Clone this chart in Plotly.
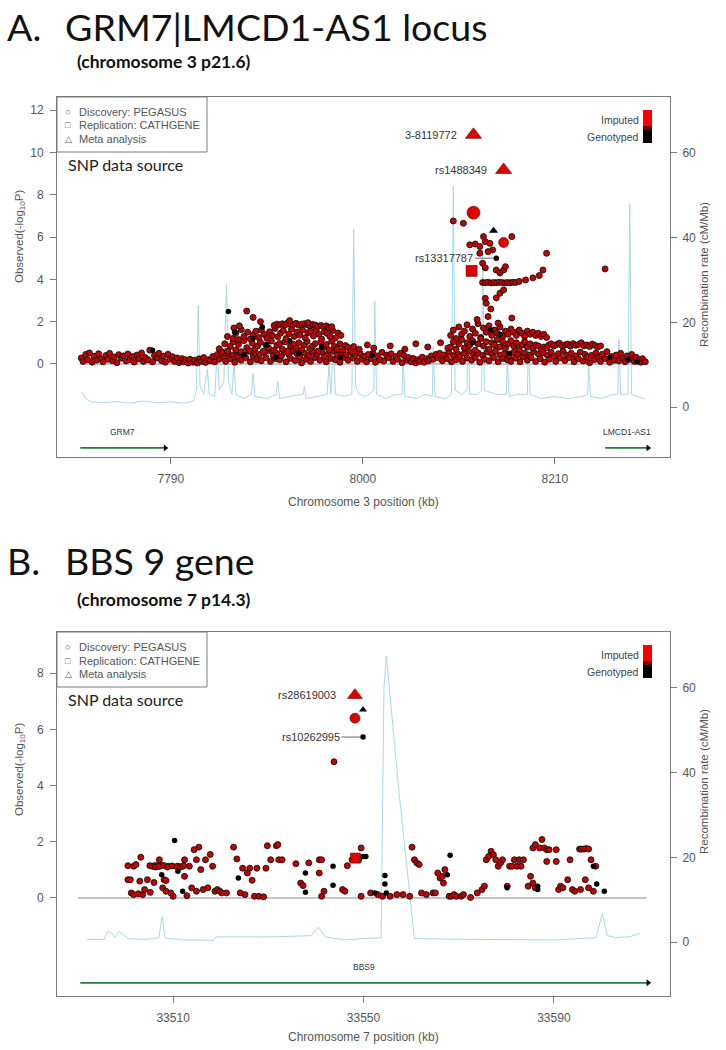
import plotly.graph_objects as go

# ================= DATA =================
# ---- Panel A : GRM7|LMCD1-AS1 (chromosome 3, kb) ----
A_band_pos = [7692, 7694, 7697, 7699, 7701, 7704, 7706, 7709, 7711, 7714,
              7716, 7719, 7721, 7723, 7726, 7728, 7731, 7733, 7736, 7738,
              7741, 7743, 7745, 7748, 7750, 7753, 7755, 7758, 7760, 7762,
              7765, 7767, 7770, 7772, 7775, 7777, 7780, 7782, 7784, 7787,
              7789, 7792, 7794, 7797, 7799, 7802, 7804, 7806, 7809, 7811,
              7814, 7816, 7819, 7821, 7823, 7826, 7828, 7831, 7833, 7836,
              7838, 7841, 7843, 7845, 7848, 7850, 7853, 7855, 7858, 7860,
              7863, 7865, 7867, 7870, 7872, 7875, 7877, 7880, 7882, 7884,
              7887, 7889, 7892, 7894, 7897, 7899, 7902, 7904, 7906, 7909,
              7911, 7914, 7916, 7919, 7921, 7923, 7926, 7928, 7931, 7933,
              7936, 7938, 7941, 7943, 7945, 7948, 7950, 7953, 7955, 7958,
              7960, 7962, 7965, 7967, 7970, 7972, 7975, 7977, 7980, 7982,
              7984, 7987, 7989, 7992, 7994, 7997, 7999, 8002, 8004, 8006,
              8009, 8011, 8014, 8016, 8019, 8021, 8023, 8026, 8028, 8031,
              8033, 8036, 8038, 8041, 8043, 8045, 8048, 8050, 8053, 8055,
              8058, 8060, 8062, 8065, 8067, 8070, 8072, 8075, 8077, 8080,
              8082, 8084, 8087, 8089, 8092, 8094, 8097, 8099, 8102, 8104,
              8106, 8109, 8111, 8114, 8116, 8119, 8121, 8123, 8126, 8128,
              8131, 8133, 8136, 8138, 8141, 8143, 8145, 8148, 8150, 8153,
              8155, 8158, 8160, 8162, 8165, 8167, 8170, 8172, 8175, 8177,
              8180, 8182, 8184, 8187, 8189, 8192, 8194, 8197, 8199, 8202,
              8204, 8206, 8209, 8211, 8214, 8216, 8219, 8221, 8223, 8226,
              8228, 8231, 8233, 8236, 8238, 8241, 8243, 8245, 8248, 8250,
              8253, 8255, 8258, 8260, 8262, 8265, 8267, 8270, 8272, 8275,
              8277, 8280, 8282, 8284, 8287, 8289, 8292, 8294, 8297, 8299,
              8302, 8304, 8306, 8309]
A_band_logp = [0.28, 0.12, 0.45, 0.2, 0.52, 0.08, 0.36, 0.18, 0.48, 0.25,
               0.1, 0.4, 0.22, 0.5, 0.15, 0.33, 0.06, 0.44, 0.27, 0.38,
               0.14, 0.47, 0.2, 0.35, 0.09, 0.42, 0.24, 0.52, 0.12, 0.3,
               0.2, 0.65, 0.1, 0.4, 0.28, 0.5, 0.15, 0.37, 0.08, 0.46,
               0.22, 0.34, 0.12, 0.28, 0.06, 0.25, 0.1, 0.2, 0.04, 0.22,
               0.08, 0.18, 0.05, 0.24, 0.12, 0.3, 0.07, 0.2, 0.15, 0.35,
               0.1, 0.45, 0.22, 0.58, 0.3, 0.12, 0.5, 0.25, 0.4, 0.08,
               0.35, 0.55, 0.18, 0.42, 0.28, 0.6, 0.1, 0.38, 0.5, 0.2,
               0.45, 0.15, 0.55, 0.3, 0.62, 0.12, 0.4, 0.25, 0.5, 0.2,
               0.38, 0.58, 0.1, 0.44, 0.26, 0.6, 0.16, 0.48, 0.32, 0.05,
               0.52, 0.22, 0.4, 0.12, 0.58, 0.3, 0.46, 0.18, 0.55, 0.35,
               0.1, 0.48, 0.26, 0.6, 0.2, 0.42, 0.08, 0.5, 0.3, 0.44,
               0.18, 0.56, 0.28, 0.4, 0.12, 0.5, 0.22, 0.36, 0.1, 0.45,
               0.25, 0.5, 0.08, 0.38, 0.2, 0.55, 0.14, 0.42, 0.3, 0.48,
               0.12, 0.35, 0.22, 0.5, 0.06, 0.4, 0.18, 0.3, 0.1, 0.26,
               0.05, 0.2, 0.12, 0.32, 0.08, 0.25, 0.15, 0.38, 0.22, 0.45,
               0.3, 0.5, 0.15, 0.42, 0.25, 0.55, 0.1, 0.4, 0.2, 0.48,
               0.35, 0.12, 0.5, 0.28, 0.6, 0.18, 0.45, 0.3, 0.52, 0.08,
               0.4, 0.22, 0.56, 0.15, 0.48, 0.3, 0.6, 0.1, 0.42, 0.26,
               0.5, 0.2, 0.38, 0.12, 0.55, 0.28, 0.45, 0.1, 0.35, 0.52,
               0.18, 0.42, 0.3, 0.58, 0.12, 0.46, 0.25, 0.52, 0.08, 0.4,
               0.22, 0.55, 0.35, 0.12, 0.48, 0.28, 0.6, 0.16, 0.42, 0.3,
               0.5, 0.1, 0.38, 0.24, 0.56, 0.14, 0.45, 0.32, 0.06, 0.4,
               0.2, 0.52, 0.3, 0.12, 0.46, 0.26, 0.58, 0.08, 0.35, 0.18,
               0.42, 0.15, 0.5, 0.28, 0.1, 0.38, 0.22, 0.45, 0.12, 0.32,
               0.2, 0.08, 0.25, 0.1]

A_cloud_lo_pos = [7843, 7846, 7849, 7852, 7855, 7858, 7861, 7864, 7867, 7870,
                  7873, 7876, 7879, 7882, 7885, 7888, 7891, 7894, 7897, 7900,
                  7903, 7906, 7909, 7912, 7915, 7918, 7921, 7924, 7927, 7930,
                  7933, 7936, 7939, 7942, 7945, 7948, 7951, 7954, 7957, 7960,
                  7963, 7966, 7969, 7972, 7975, 7978, 7981, 7984, 7987, 7990,
                  7993, 7996]
A_cloud_lo_logp = [0.72, 0.55, 0.95, 0.61, 0.83, 1.05, 0.66, 0.92, 0.58, 1.1,
                   0.77, 0.63, 0.98, 0.7, 0.85, 1.02, 0.6, 0.9, 0.75, 1.08,
                   0.65, 0.88, 0.97, 0.7, 1.04, 0.62, 0.86, 0.93, 0.74, 1.0,
                   0.68, 0.9, 1.06, 0.72, 0.84, 0.96, 0.61, 1.03, 0.79, 0.92,
                   0.66, 1.07, 0.83, 0.71, 0.95, 0.64, 0.87, 0.78, 0.6, 0.82,
                   0.58, 0.7]
A_cloud_hi_pos = [7858, 7861, 7864, 7867, 7870, 7874, 7877, 7880, 7883, 7886,
                  7889, 7892, 7895, 7898, 7901, 7904, 7907, 7910, 7913, 7916,
                  7919, 7922, 7925, 7928, 7931, 7934, 7937, 7940, 7943, 7946,
                  7949, 7952, 7955, 7958, 7961, 7964, 7967, 7970, 7973, 7976]
A_cloud_hi_logp = [1.2, 1.45, 1.15, 1.62, 1.3, 1.5, 1.18, 1.38, 1.55, 1.25,
                   1.6, 1.4, 1.22, 1.52, 1.35, 1.68, 1.28, 1.45, 1.58, 1.2,
                   1.42, 1.65, 1.3, 1.5, 1.36, 1.6, 1.24, 1.48, 1.55, 1.32,
                   1.62, 1.4, 1.18, 1.52, 1.44, 1.3, 1.58, 1.22, 1.46, 1.35]
A_streak_pos = [7903, 7906, 7909, 7912, 7915, 7918, 7921, 7924, 7927, 7930, 7933,
                7936, 7939, 7942, 7945, 7948, 7951, 7954, 7957, 7960, 7963, 7966]
A_streak_logp = [1.82, 1.88, 1.85, 1.9, 1.84, 1.95, 1.87, 1.86, 1.92, 1.83, 1.88,
                 1.9, 1.85, 1.8, 1.87, 1.84, 1.78, 1.82, 1.75, 1.8, 1.72, 1.76]
A_extra_pos = [7852, 7859, 7865, 7873, 7880, 7888, 7920, 7940, 8005, 8012, 8030,
               8046, 8058, 8071, 8085, 8093, 8265]
A_extra_logp = [1.3, 1.7, 1.8, 2.5, 2.2, 2.0, 2.05, 1.95, 0.9, 0.75, 0.85,
                0.7, 0.95, 0.8, 1.0, 0.75, 4.49]
A_mid_pos = [8096, 8099, 8102, 8105, 8108, 8111, 8114, 8117, 8120, 8123, 8126, 8129,
             8132, 8135, 8138, 8141, 8144, 8147, 8150, 8153, 8156, 8159, 8162, 8165,
             8168, 8171, 8174, 8177, 8180, 8183, 8186, 8189, 8192, 8195, 8198, 8201]
A_mid_hi_logp = [1.35, 1.6, 1.2, 1.75, 1.4, 1.55, 1.85, 1.3, 1.65, 1.45, 1.9, 1.25,
                 1.7, 1.5, 1.8, 1.35, 1.6, 1.45, 1.75, 1.3, 1.55, 1.4, 1.65, 1.5,
                 1.35, 1.6, 1.45, 1.3, 1.55, 1.4, 1.5, 1.35, 1.45, 1.3, 1.4, 1.25]
A_mid_lo_logp = [0.8, 1.05, 0.7, 0.95, 1.15, 0.75, 1.0, 0.9, 1.1, 0.65, 0.95, 1.2,
                 0.85, 1.05, 0.7, 1.0, 0.9, 1.15, 0.8, 1.05, 0.75, 0.95, 1.1, 0.85,
                 1.0, 0.7, 0.9, 1.05, 0.8, 0.95, 0.75, 0.9, 0.85, 0.7, 0.8, 0.75]
A_right_pos = [8203, 8206, 8209, 8212, 8215, 8218, 8221, 8224, 8227, 8230,
               8233, 8236, 8239, 8242, 8245, 8248, 8251, 8254, 8257, 8260]
A_right_logp = [0.88, 0.95, 0.85, 0.92, 0.98, 0.86, 0.9, 0.94, 0.84, 0.96,
                0.88, 0.92, 1.0, 0.86, 0.9, 0.82, 0.94, 0.87, 0.8, 0.85]
A_top_pos = [8099, 8110, 8117, 8123, 8128, 8134, 8139, 8132, 8142, 8137,
             8128, 8163, 8201, 8131, 8134, 8146, 8150, 8197, 8131, 8134,
             8137, 8140, 8143, 8146, 8149, 8152, 8155, 8158, 8161, 8164,
             8167, 8171, 8178, 8186, 8193, 8150, 8154, 8146, 8134, 8135,
             8137, 8163, 8148, 8125, 8140, 8154, 8156]
A_top_logp = [6.76, 6.65, 5.63, 5.67, 5.55, 5.78, 5.7, 6.02, 5.39, 5.31,
              5.23, 6.02, 5.23, 4.76, 4.54, 4.44, 4.3, 4.44, 3.85, 3.84,
              3.86, 3.83, 3.85, 3.84, 3.86, 3.85, 3.83, 3.85, 3.84, 3.86,
              3.85, 3.9, 3.97, 4.07, 4.18, 3.34, 3.5, 3.12, 3.1, 2.87,
              2.24, 2.17, 1.93, 2.1, 2.6, 4.44, 4.6]
A_geno_pos = [7770, 7853, 7870, 7880, 7895, 7905, 7920, 7930, 7955, 7975,
              8010, 8120, 8140, 8150, 8160, 8270, 8290, 8300, 7860, 7890, 8146]
A_geno_logp = [0.65, 2.48, 0.45, 1.2, 0.9, 0.3, 1.1, 0.5, 0.8, 0.3,
               0.4, 1.0, 1.6, 1.4, 0.5, 0.3, 0.2, 0.1, 1.5, 1.75, 5.0]
# highlighted SNPs (panel A)
A_meta_pos = [8121, 8154]            # red triangles (meta analysis)
A_meta_logp = [10.83, 9.17]
A_meta_names = ["3-8119772", "rs1488349"]
A_disc_big_pos = [8121]              # red circles (discovery)
A_disc_big_logp = [7.15]
A_disc_pos = [8154]
A_disc_logp = [5.74]
A_rep_pos = [8119]                   # red square (replication)
A_rep_logp = [4.4]
A_meta_geno_pos = [8143]             # black triangle
A_meta_geno_logp = [6.3]
A_tag_name = "rs13317787"
A_tag_pos = 8146
A_tag_logp = 5.0

A_rec_pos = [7693, 7697, 7703, 7715, 7730, 7745, 7760, 7775, 7790, 7805,
             7815, 7818, 7820, 7822, 7826, 7830, 7832, 7838, 7841, 7843,
             7848, 7851, 7853, 7857, 7859, 7861, 7870, 7878, 7880, 7882,
             7895, 7905, 7907, 7909, 7920, 7935, 7936, 7938, 7950, 7961,
             7963, 7965, 7968, 7970, 7980, 7988, 7990, 7992, 7996, 8004,
             8012, 8013, 8015, 8025, 8035, 8043, 8044, 8046, 8060, 8068,
             8076, 8077, 8079, 8090, 8097, 8099, 8101, 8108, 8114, 8115,
             8117, 8125, 8130, 8131, 8133, 8145, 8157, 8158, 8160, 8170,
             8180, 8181, 8183, 8195, 8210, 8225, 8240, 8246, 8247, 8249,
             8262, 8272, 8279, 8280, 8282, 8290, 8292, 8294, 8300, 8308]
A_rec_rate = [3.5, 2.0, 1.2, 1.0, 1.3, 0.9, 1.4, 1.0, 1.2, 0.9,
              1.5, 4, 24, 5, 3, 9, 3, 2.5, 14, 4,
              6, 29, 6, 3, 11, 3, 2, 3, 8, 2.5,
              2, 3, 6, 2, 2.5, 3, 5, 2, 2.5, 3,
              10, 3, 14, 3, 2.5, 3, 42, 5, 3, 2.5,
              4, 25, 3, 2, 3, 3, 12, 2.5, 2, 3,
              2.5, 14, 2.5, 2, 3, 52, 4, 3, 4, 20,
              3, 3, 4, 38, 4, 3, 3, 12, 2.5, 3,
              3, 15, 3, 2, 2.5, 2, 2.5, 3, 10, 2.5,
              2, 3, 3, 16, 3, 3, 48, 3, 2.5, 2]
A_baseline = [7690, 8310]
A_genes = ["GRM7", "LMCD1-AS1"]
A_gene_start = [7691, 8265]
A_gene_end = [7784, 8312]
A_xticks = [7790, 8000, 8210]

# ---- Panel B : BBS9 (chromosome 7, kb) ----
B_imputed = [
    (33500.5, 1.15), (33500.5, 0.65), (33501.0, 0.65), (33501.7, 1.13), (33502.2, 1.19),
    (33503.2, 1.45), (33501.2, 0.18), (33501.7, 0.12), (33502.7, 0.15), (33503.6, 0.12),
    (33504.6, 0.65), (33505.1, 1.15), (33505.6, 1.13), (33506.1, 1.15), (33506.6, 1.15),
    (33507.1, 1.36), (33507.4, 1.15), (33507.8, 0.36), (33508.1, 0.65), (33508.5, 0.62),
    (33508.5, 0.24), (33509.0, 1.13), (33509.5, 0.18), (33510.0, 0.06), (33511.0, 1.13),
    (33512.0, 1.13), (33512.4, 0.77), (33512.4, 1.36), (33512.9, 0.08), (33513.4, 1.13),
    (33513.9, 0.36), (33514.4, 1.72), (33514.9, 1.36), (33514.9, 0.24), (33515.4, 1.81),
    (33515.8, 1.01), (33516.3, 0.3), (33516.8, 1.36), (33517.3, 0.36), (33517.8, 1.55),
    (33518.3, 1.13), (33518.8, 0.24), (33519.3, 0.3), (33519.8, 0.24), (33520.2, 0.18),
    (33521.2, 0.18), (33506.3, 1.1), (33507.0, 1.12), (33508.0, 1.16), (33508.8, 1.1),
    (33509.8, 1.14), (33510.8, 1.12), (33511.5, 1.1), (33512.2, 1.15), (33504.0, 0.3),
    (33506.0, 0.55), (33505.2, 0.2), (33503.0, 0.6),
    (33522.7, 1.81), (33523.4, 1.39), (33524.1, 0.18), (33524.6, 1.06), (33525.1, 0.12),
    (33525.6, 0.89), (33526.1, 1.06), (33526.6, 0.63), (33527.1, 0.06), (33527.6, 1.06),
    (33528.0, 0.06), (33529.0, 0.04), (33529.5, 1.06), (33529.8, 1.86), (33530.5, 1.36),
    (33531.7, 1.86), (33532.0, 1.9), (33532.2, 1.36), (33532.9, 1.36),
    (33535.8, 1.22), (33536.8, 0.53), (33537.3, 0.44), (33538.5, 1.25), (33540.7, 1.36),
    (33541.2, 1.36), (33540.7, 0.89), (33541.2, 0.06), (33541.7, 0.24), (33543.8, 4.85),
    (33545.6, 0.3), (33546.1, 0.24), (33546.6, 1.15), (33547.6, 1.36), (33548.0, 1.42),
    (33549.0, 1.36), (33549.5, 1.78), (33549.5, 0.06),
    (33551.5, 0.18), (33553.0, 0.12), (33554.0, 0.06), (33555.6, 0.06), (33557.0, 0.12),
    (33558.3, 0.12), (33559.7, 0.06), (33560.2, 1.81), (33560.7, 1.36), (33561.2, 1.25),
    (33561.7, 1.19), (33562.2, 0.18), (33563.2, 0.12), (33564.6, 0.18), (33565.1, 0.18),
    (33565.6, 0.89), (33566.1, 0.71), (33566.6, 0.77), (33566.8, 0.53), (33567.1, 1.01),
    (33568.0, 0.06), (33568.5, 0.06), (33569.0, 0.12), (33569.5, 0.06), (33570.5, 0.06),
    (33571.0, 0.12), (33572.5, 0.02),
    (33573.9, 0.18), (33574.9, 0.3), (33575.4, 0.42), (33575.8, 1.36), (33576.3, 1.48),
    (33576.8, 1.66), (33577.3, 1.54), (33577.8, 1.36), (33578.3, 1.13), (33578.8, 1.25),
    (33579.2, 1.36), (33580.2, 0.42), (33580.7, 1.13), (33581.2, 1.13), (33581.7, 1.36),
    (33582.2, 1.13), (33582.7, 1.36), (33583.1, 1.13), (33583.6, 1.36), (33584.6, 0.42),
    (33585.1, 0.77), (33585.6, 0.53), (33586.1, 0.36), (33585.6, 1.78), (33586.1, 1.9),
    (33587.0, 1.78), (33587.5, 2.08), (33588.0, 1.78), (33588.5, 1.72), (33588.5, 1.3),
    (33589.0, 1.72), (33590.5, 1.72), (33590.5, 1.3), (33591.0, 0.3), (33591.4, 0.42),
    (33591.9, 0.36), (33592.9, 0.65), (33593.4, 1.36), (33593.9, 0.3), (33594.4, 0.24),
    (33595.4, 1.74), (33595.8, 1.74), (33596.3, 1.74), (33596.8, 1.76), (33597.3, 1.74),
    (33597.8, 1.36), (33598.8, 1.13), (33598.3, 0.24), (33597.3, 0.36), (33596.6, 0.65),
    (33595.6, 0.3)]
B_genotyped = [
    (33510.3, 2.05), (33507.6, 0.83), (33511.0, 0.95), (33512.0, 0.24), (33523.7, 0.71),
    (33537.8, 0.89), (33537.8, 0.2), (33543.6, 1.13), (33543.6, 0.45), (33549.9, 1.48),
    (33550.5, 1.48), (33552.4, 0.18), (33554.5, 0.8), (33554.5, 0.5), (33554.8, 0.18),
    (33567.6, 0.83), (33568.2, 1.52), (33580.2, 0.36), (33586.6, 0.3), (33586.6, 0.42),
    (33598.3, 1.13), (33599.0, 0.5), (33600.6, 0.24), (33549.9, 5.73)]
B_meta_pos = [33548.2]
B_meta_logp = [7.22]
B_meta_names = ["rs28619003"]
B_disc_pos = [33548.2]
B_disc_logp = [6.4]
B_rep_pos = [33548.3]
B_rep_logp = [1.42]
B_meta_geno_pos = [33549.9]
B_meta_geno_logp = [6.7]
B_tag_name = "rs10262995"
B_tag_pos = 33549.9
B_tag_logp = 5.73
B_rec_pos = [33491.9, 33495.5, 33496.3, 33497.0, 33497.8, 33498.6, 33499.3, 33500.5,
             33504.5, 33507.0, 33507.7, 33508.3, 33512.0, 33518.5, 33519.0, 33530.0,
             33539.0, 33540.5, 33542.0, 33546.0, 33550.0, 33553.7, 33554.3, 33554.8,
             33557.5, 33560.7, 33575.0, 33590.0, 33598.8, 33600.2, 33601.2, 33603.2,
             33606.0, 33608.0]
B_rec_rate = [0.6, 0.6, 2.5, 2.2, 1.0, 2.5, 2.0, 0.8,
              0.6, 1.0, 6.0, 1.0, 0.5, 0.4, 1.2, 1.2,
              1.5, 3.5, 1.2, 0.5, 0.8, 1.0, 60, 67.5,
              35, 0.8, 0.6, 0.5, 1.0, 6.8, 1.5, 1.0,
              1.3, 2.0]
B_baseline = [33490, 33609.5]
B_genes = ["BBS9"]
B_gene_start = [33490.5]
B_gene_end = [33609.8]
B_xticks = [33510, 33550, 33590]

LOGP_TICKS_A = [0, 2, 4, 6, 8, 10, 12]
LOGP_TICKS_B = [0, 2, 4, 6, 8]
REC_TICKS = [0, 20, 40, 60]

# ================= FIGURE =================
W, H = 726, 1050
L, R = 57, 670
A_TOP, A_BOT = 97, 457
B_TOP, B_BOT = 632, 996


def fx(p):
    return p / W


def fy(p):
    return 1 - p / H


NARROW = "Liberation Sans Narrow, Arial Narrow, Liberation Sans, Arial, sans-serif"
ARIAL = "Liberation Sans, Arial, sans-serif"
CAL = "Lato, Carlito, Calibri, Open Sans, sans-serif"
RED = "#c40000"
REC_COLOR = "#a9d7e6"
GREEN = "#2c7a36"
AXC = "#7a7a7a"
TXT = "#555555"

fig = go.Figure()


def pts(x, y, xa, ya, size=6, color=RED, symbol="circle", outline="#111111", ow=0.9):
    fig.add_trace(go.Scatter(
        x=x, y=y, mode="markers", xaxis=xa, yaxis=ya, hoverinfo="skip",
        showlegend=False,
        marker=dict(symbol=symbol, size=size, color=color, opacity=1,
                    line=dict(color=outline, width=ow))))


def line(x, y, xa, ya, color, width):
    fig.add_trace(go.Scatter(
        x=x, y=y, mode="lines", xaxis=xa, yaxis=ya, hoverinfo="skip",
        showlegend=False, line=dict(color=color, width=width)))


# ---- Panel A traces ----
line(A_rec_pos, A_rec_rate, "x", "y", REC_COLOR, 1)
line(A_baseline, [0, 0], "x", "y2", "#c4c4c4", 2)
pts(A_band_pos, A_band_logp, "x", "y2")
pts(A_cloud_lo_pos, A_cloud_lo_logp, "x", "y2")
pts(A_cloud_hi_pos, A_cloud_hi_logp, "x", "y2")
pts(A_streak_pos, A_streak_logp, "x", "y2")
pts(A_extra_pos, A_extra_logp, "x", "y2")
pts(A_mid_pos, A_mid_hi_logp, "x", "y2")
pts(A_mid_pos, A_mid_lo_logp, "x", "y2")
pts(A_right_pos, A_right_logp, "x", "y2")
pts(A_top_pos, A_top_logp, "x", "y2")
pts(A_geno_pos, A_geno_logp, "x", "y2", size=5.5, color="black", outline="black", ow=0)
pts(A_disc_big_pos, A_disc_big_logp, "x", "y2", size=13, color="#e00000", outline="#550000", ow=0.6)
pts(A_disc_pos, A_disc_logp, "x", "y2", size=10, color="#e00000", outline="#550000", ow=0.6)
pts(A_rep_pos, A_rep_logp, "x", "y2", size=11, symbol="square", color="#e00000", outline="#550000", ow=0.6)
pts(A_meta_pos, A_meta_logp, "x", "y2", size=14, symbol="triangle-up", color="#e00000", outline="#550000", ow=0.6)
pts(A_meta_geno_pos, A_meta_geno_logp, "x", "y2", size=8, symbol="triangle-up",
    color="black", outline="black", ow=0)
line([A_tag_pos - 23, A_tag_pos - 3], [A_tag_logp, A_tag_logp], "x", "y2", "#444", 0.8)
for s, e in zip(A_gene_start, A_gene_end):
    line([s, e], [-3.97, -3.97], "x", "y2", GREEN, 1.8)
pts(A_gene_end, [-3.97] * len(A_gene_end), "x", "y2", size=6, symbol="triangle-right",
    color="black", outline="black", ow=0)

# ---- Panel B traces ----
line(B_rec_pos, B_rec_rate, "x2", "y3", REC_COLOR, 1)
line(B_baseline, [0, 0], "x2", "y4", "#c4c4c4", 2)
pts([p for p, _ in B_imputed], [v for _, v in B_imputed], "x2", "y4")
pts([p for p, _ in B_genotyped], [v for _, v in B_genotyped], "x2", "y4",
    size=5.5, color="black", outline="black", ow=0)
pts(B_rep_pos, B_rep_logp, "x2", "y4", size=10, symbol="square", color="#e00000", outline="#550000", ow=0.6)
pts(B_disc_pos, B_disc_logp, "x2", "y4", size=10, color="#e00000", outline="#550000", ow=0.6)
pts(B_meta_pos, B_meta_logp, "x2", "y4", size=13, symbol="triangle-up", color="#e00000", outline="#550000", ow=0.6)
pts(B_meta_geno_pos, B_meta_geno_logp, "x2", "y4", size=7, symbol="triangle-up",
    color="black", outline="black", ow=0)
line([B_tag_pos - 4.5, B_tag_pos - 0.6], [B_tag_logp, B_tag_logp], "x2", "y4", "#444", 0.8)
for s, e in zip(B_gene_start, B_gene_end):
    line([s, e], [-3.02, -3.02], "x2", "y4", GREEN, 1.8)
pts(B_gene_end, [-3.02] * len(B_gene_end), "x2", "y4", size=6, symbol="triangle-right",
    color="black", outline="black", ow=0)

# ---- axes ----
TICKFONT = dict(family=NARROW, size=12, color=TXT)
box = dict(showgrid=False, zeroline=False, showline=True, mirror=True,
           linecolor=AXC, linewidth=1, ticks="outside", ticklen=6,
           tickcolor=AXC, tickfont=TICKFONT)
left = dict(showgrid=False, zeroline=False, showline=False, ticks="outside",
            ticklen=6, tickcolor=AXC, tickfont=TICKFONT, side="left",
            ticklabelstandoff=4)

fig.update_layout(
    width=W, height=H, margin=dict(l=0, r=0, t=0, b=0),
    paper_bgcolor="white", plot_bgcolor="white", showlegend=False,
    xaxis=dict(domain=[fx(L), fx(R)], range=[7665.5, 8336], anchor="y",
               tickvals=A_xticks, tickformat="d", ticklabelstandoff=5, **box),
    yaxis=dict(domain=[fy(A_BOT), fy(A_TOP)], range=[-11.8, 73.2], anchor="x",
               side="right", tickvals=REC_TICKS, ticklabelstandoff=3, **box),
    yaxis2=dict(overlaying="y", anchor="x", range=[-4.40, 12.62],
                tickvals=LOGP_TICKS_A, **left),
    xaxis2=dict(domain=[fx(L), fx(R)], range=[33485.6, 33614.4], anchor="y3",
                tickvals=B_xticks, tickformat="d", ticklabelstandoff=5, **box),
    yaxis3=dict(domain=[fy(B_BOT), fy(B_TOP)], range=[-12.75, 73.2], anchor="x2",
                side="right", tickvals=REC_TICKS, ticklabelstandoff=3, **box),
    yaxis4=dict(overlaying="y3", anchor="x2", range=[-3.49, 9.47],
                tickvals=LOGP_TICKS_B, **left),
)

ann = []
shapes = []


def text(x, y, s, size, color=TXT, family=ARIAL, xanchor="left", angle=0,
         xref="paper", yref="paper", yanchor="middle"):
    ann.append(dict(x=x, y=y, xref=xref, yref=yref, text=s, showarrow=False,
                    xanchor=xanchor, yanchor=yanchor, textangle=angle,
                    font=dict(family=family, size=size, color=color)))


# titles
text(fx(5), fy(26), "A.", 37.5, "#111", CAL)
text(fx(63), fy(26), "GRM7|LMCD1-AS1 locus", 37.5, "#111", CAL)
text(fx(75), fy(62), "<b>(chromosome 3 p21.6)</b>", 17.5, "#111", CAL)
text(fx(5), fy(560), "B.", 37.5, "#111", CAL)
text(fx(63), fy(560), "BBS 9 gene", 37.5, "#111", CAL)
text(fx(75), fy(599), "<b>(chromosome 7 p14.3)</b>", 17.5, "#111", CAL)

for top, ylab, rlab, xlab_y, chrom in [(A_TOP, 237, 275, 502, "3"), (B_TOP, 770, 782, 1037, "7")]:
    # source legend box
    shapes.append(dict(type="rect", xref="paper", yref="paper", x0=fx(L), x1=fx(207),
                       y0=fy(top + 55), y1=fy(top), line=dict(color=AXC, width=1)))
    for i, (sym, lab) in enumerate([("○", "Discovery: PEGASUS"),
                                    ("□", "Replication: CATHGENE"),
                                    ("△", "Meta analysis")]):
        yy = top + 15 + i * 13.5
        text(fx(63), fy(yy), sym, 9, TXT, ARIAL)
        text(fx(77), fy(yy), lab, 11, TXT, ARIAL)
    text(fx(66), fy(top + 67), "SNP data source", 16, "#222", CAL)
    # imputed / genotyped colour key
    shapes.append(dict(type="rect", xref="paper", yref="paper", x0=fx(643), x1=fx(652),
                       y0=fy(top + 29), y1=fy(top + 13), fillcolor="#ff0000", line=dict(width=0)))
    shapes.append(dict(type="rect", xref="paper", yref="paper", x0=fx(643), x1=fx(652),
                       y0=fy(top + 33), y1=fy(top + 29), fillcolor="#700000", line=dict(width=0)))
    shapes.append(dict(type="rect", xref="paper", yref="paper", x0=fx(643), x1=fx(652),
                       y0=fy(top + 46), y1=fy(top + 33), fillcolor="#000000", line=dict(width=0)))
    text(fx(641), fy(top + 23), "Imputed", 10.5, "#444", NARROW, xanchor="right")
    text(fx(641), fy(top + 40), "Genotyped", 10.5, "#444", NARROW, xanchor="right")
    # axis titles
    text(fx(20), fy(ylab), "Observed(-log<sub>10</sub>P)", 11.5, TXT, NARROW, xanchor="center", angle=-90)
    text(fx(704), fy(rlab), "Recombination rate (cM/Mb)", 11.5, TXT, NARROW, xanchor="center", angle=-90)
    text(fx(363), fy(xlab_y), f"Chromosome {chrom} position (kb)", 12, TXT, NARROW, xanchor="center")

# SNP labels
for p, v, n in zip(A_meta_pos, A_meta_logp, A_meta_names):
    text(p - 16, v, n, 11, "#333", NARROW, xanchor="right", xref="x", yref="y2")
text(A_tag_pos - 23, A_tag_logp, A_tag_name, 11, "#333", NARROW, xanchor="right", xref="x", yref="y2")
for p, v, n in zip(B_meta_pos, B_meta_logp, B_meta_names):
    text(p - 3.6, v, n, 11, "#333", NARROW, xanchor="right", xref="x2", yref="y4")
text(B_tag_pos - 4.5, B_tag_logp, B_tag_name, 11, "#333", NARROW, xanchor="right", xref="x2", yref="y4")

# gene labels
for s, e, g in zip(A_gene_start, A_gene_end, A_genes):
    text((s + e) / 2, -3.2, g, 8.5, "#333", NARROW, xanchor="center", xref="x", yref="y2")
for s, e, g in zip(B_gene_start, B_gene_end, B_genes):
    text((s + e) / 2, -2.46, g, 8.5, "#333", NARROW, xanchor="center", xref="x2", yref="y4")

fig.update_layout(annotations=ann, shapes=shapes)
# remove the browser's default 8px page margin so the figure sits at (0, 0)
fig.write_html("out.html", config={"displayModeBar": False},
               post_script="document.body.style.margin='0px';")
